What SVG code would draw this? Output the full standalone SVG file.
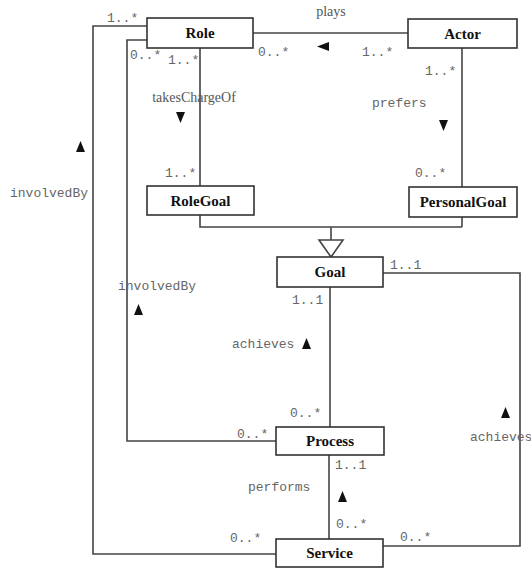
<svg xmlns="http://www.w3.org/2000/svg" width="531" height="568" viewBox="0 0 531 568">
<style>
.box{fill:#fff;stroke:#333;stroke-width:1.6}
.name{font-family:"Liberation Serif",serif;font-weight:bold;font-size:15px;fill:#111;text-anchor:middle}
.ln{fill:none;stroke:#444;stroke-width:1.6}
.m{font-family:"Liberation Mono",monospace;font-size:13px;fill:#666}
.s{font-family:"Liberation Serif",serif;font-size:14px;fill:#555}
.tri{fill:#111}
</style>
<rect width="531" height="568" fill="#fff"/>
<g id="connectors">
<polyline class="ln" points="253,33 408,33"/>
<polyline class="ln" points="147,26 93,26 93,554 276,554"/>
<polyline class="ln" points="147,40 127,40 127,441 276,441"/>
<polyline class="ln" points="200,48 200,227 462,227"/>
<polyline class="ln" points="462,48 462,227"/>
<polyline class="ln" points="331,227 331,240"/>
<polygon points="319,240 343,240 331,257" fill="#fff" stroke="#444" stroke-width="1.6"/>
<polyline class="ln" points="330,287 330,427"/>
<polyline class="ln" points="329,455 329,539"/>
<polyline class="ln" points="383,273 520,273 520,546 383,546"/>
<polygon class="tri" points="329,42 329,51 317,46.5"/>
<polygon class="tri" points="176,112 185,112 180.5,123"/>
<polygon class="tri" points="439,120 448,120 443.5,131"/>
<polygon class="tri" points="76,152 85,152 80.5,141"/>
<polygon class="tri" points="134,315 143,315 138.5,304"/>
<polygon class="tri" points="302,349 311,349 306.5,338"/>
<polygon class="tri" points="338,502 347,502 342.5,491"/>
<polygon class="tri" points="501,418 510,418 505.5,407"/>
<text class="s" x="331" y="16" text-anchor="middle">plays</text>
<text class="m" x="107" y="22">1..*</text>
<text class="m" x="258" y="56">0..*</text>
<text class="m" x="362" y="56">1..*</text>
<text class="m" x="130" y="59">0..*</text>
<text class="m" x="168" y="64">1..*</text>
<text class="s" x="194" y="102" text-anchor="middle">takesChargeOf</text>
<text class="m" x="425" y="75">1..*</text>
<text class="m" x="372" y="107">prefers</text>
<text class="m" x="165" y="177">1..*</text>
<text class="m" x="415" y="177">0..*</text>
<text class="m" x="10" y="197">involvedBy</text>
<text class="m" x="118" y="290">involvedBy</text>
<text class="m" x="292" y="304">1..1</text>
<text class="m" x="390" y="269">1..1</text>
<text class="m" x="232" y="348">achieves</text>
<text class="m" x="290" y="417">0..*</text>
<text class="m" x="237" y="438">0..*</text>
<text class="m" x="470" y="441">achieves</text>
<text class="m" x="335" y="469">1..1</text>
<text class="m" x="248" y="491">performs</text>
<text class="m" x="336" y="528">0..*</text>
<text class="m" x="230" y="542">0..*</text>
<text class="m" x="400" y="541">0..*</text>
</g>
<g id="Role"><rect class="box" x="147" y="18" width="106" height="30"/><text class="name" x="200" y="38">Role</text></g>
<g id="Actor"><rect class="box" x="408" y="19" width="109" height="29"/><text class="name" x="462.5" y="39">Actor</text></g>
<g id="RoleGoal"><rect class="box" x="147" y="186" width="107" height="29"/><text class="name" x="200.5" y="206">RoleGoal</text></g>
<g id="PersonalGoal"><rect class="box" x="409" y="187" width="108" height="30"/><text class="name" x="463" y="207">PersonalGoal</text></g>
<g id="Goal"><rect class="box" x="277" y="257" width="106" height="30"/><text class="name" x="330" y="277">Goal</text></g>
<g id="Process"><rect class="box" x="276" y="427" width="108" height="28"/><text class="name" x="330" y="446">Process</text></g>
<g id="Service"><rect class="box" x="276" y="539" width="107" height="28"/><text class="name" x="329.5" y="558">Service</text></g>
</svg>
